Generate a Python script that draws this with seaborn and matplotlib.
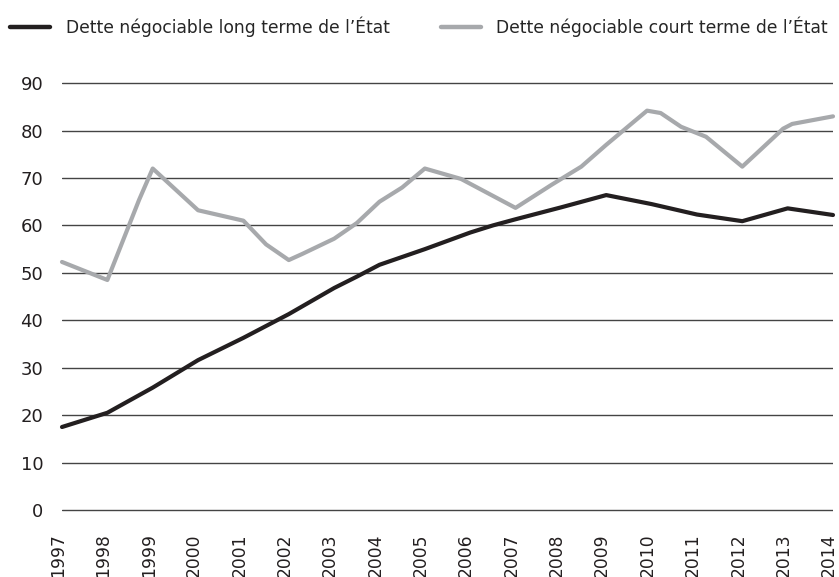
import matplotlib
matplotlib.use("Agg")
import matplotlib.pyplot as plt
import matplotlib.transforms as mtransforms
from matplotlib.lines import Line2D
import seaborn as sns
import pandas as pd

# Dette négociable long terme (noir)
long_t = [1997, 1998, 1999, 2000, 2001, 2002, 2003, 2003.5, 2004, 2005,
          2006, 2006.5, 2007, 2008, 2009, 2010, 2011, 2012, 2013, 2014]
long_v = [17.5, 20.5, 25.8, 31.6, 36.3, 41.3, 46.8, 49.2, 51.7, 55.0,
          58.5, 60.0, 61.3, 63.8, 66.4, 64.5, 62.3, 60.9, 63.6, 62.2]

# Dette négociable court terme (gris)
court_t = [1997, 1998, 1998.7, 1999, 2000, 2001, 2001.5, 2002, 2002.3, 2003,
           2003.5, 2004, 2004.5, 2005, 2005.8, 2007, 2007.8, 2008.45, 2009,
           2009.9, 2010.2, 2010.65, 2011.2, 2012, 2012.35, 2012.9, 2013.1, 2014]
court_v = [52.3, 48.5, 65.4, 72.0, 63.2, 61.0, 56.0, 52.7, 54.0, 57.2,
           60.5, 65.0, 68.0, 72.0, 69.8, 63.7, 68.6, 72.4, 77.0,
           84.2, 83.7, 80.8, 78.7, 72.4, 75.5, 80.4, 81.4, 83.0]

years = list(range(1997, 2015))
yticks = list(range(0, 100, 10))

lab_long = "Dette négociable long terme de l\u2019État"
lab_court = "Dette négociable court terme de l\u2019État"
c_long = "#231f20"
c_court = "#a7a9ac"

df = pd.concat([
    pd.DataFrame({"t": long_t, "v": long_v, "serie": lab_long}),
    pd.DataFrame({"t": court_t, "v": court_v, "serie": lab_court}),
])

sns.set_style("white")
plt.rcParams["font.family"] = ["DejaVu Sans"]

fig = plt.figure(figsize=(8.39, 5.77), dpi=100)
ax = fig.add_axes([62 / 839, 0.112, (833 - 62) / 839, 0.748])

sns.lineplot(data=df, x="t", y="v", hue="serie", sort=False,
             palette={lab_long: c_long, lab_court: c_court},
             linewidth=3.0, ax=ax, legend=False)
for l in ax.lines:
    l.set_clip_on(False)

ax.set_xlim(1997, 2014)
ax.set_ylim(-0.5, 90.5)
ax.set_yticks(yticks)
ax.set_xticks(years)
ax.set_xticklabels([str(y) for y in years], rotation=90)
ax.grid(axis="y", color="#444444", linewidth=1.0)
ax.grid(axis="x", visible=False)
for s in ax.spines.values():
    s.set_visible(False)
ax.tick_params(axis="y", length=0, pad=13.5, labelsize=13, labelcolor=c_long)
ax.tick_params(axis="x", length=0, pad=15, labelsize=12.3, labelcolor=c_long)
# labels légèrement décalés vers la gauche comme dans l'original
shift = mtransforms.ScaledTranslation(-4 / 100, 0, fig.dpi_scale_trans)
for lbl in ax.get_xticklabels():
    lbl.set_transform(lbl.get_transform() + shift)
ax.set_xlabel("")
ax.set_ylabel("")

handles = [Line2D([], [], color=c_long, lw=3.2),
           Line2D([], [], color=c_court, lw=3.2)]
fig.legend(handles, [lab_long, lab_court], loc="center left",
           bbox_to_anchor=(10 / 839, 1 - 27 / 577), ncol=2, frameon=False,
           fontsize=12.3, handlelength=2.35, handletextpad=0.9,
           columnspacing=3.0, borderaxespad=0, borderpad=0)

fig.savefig("out.png", dpi=100)
